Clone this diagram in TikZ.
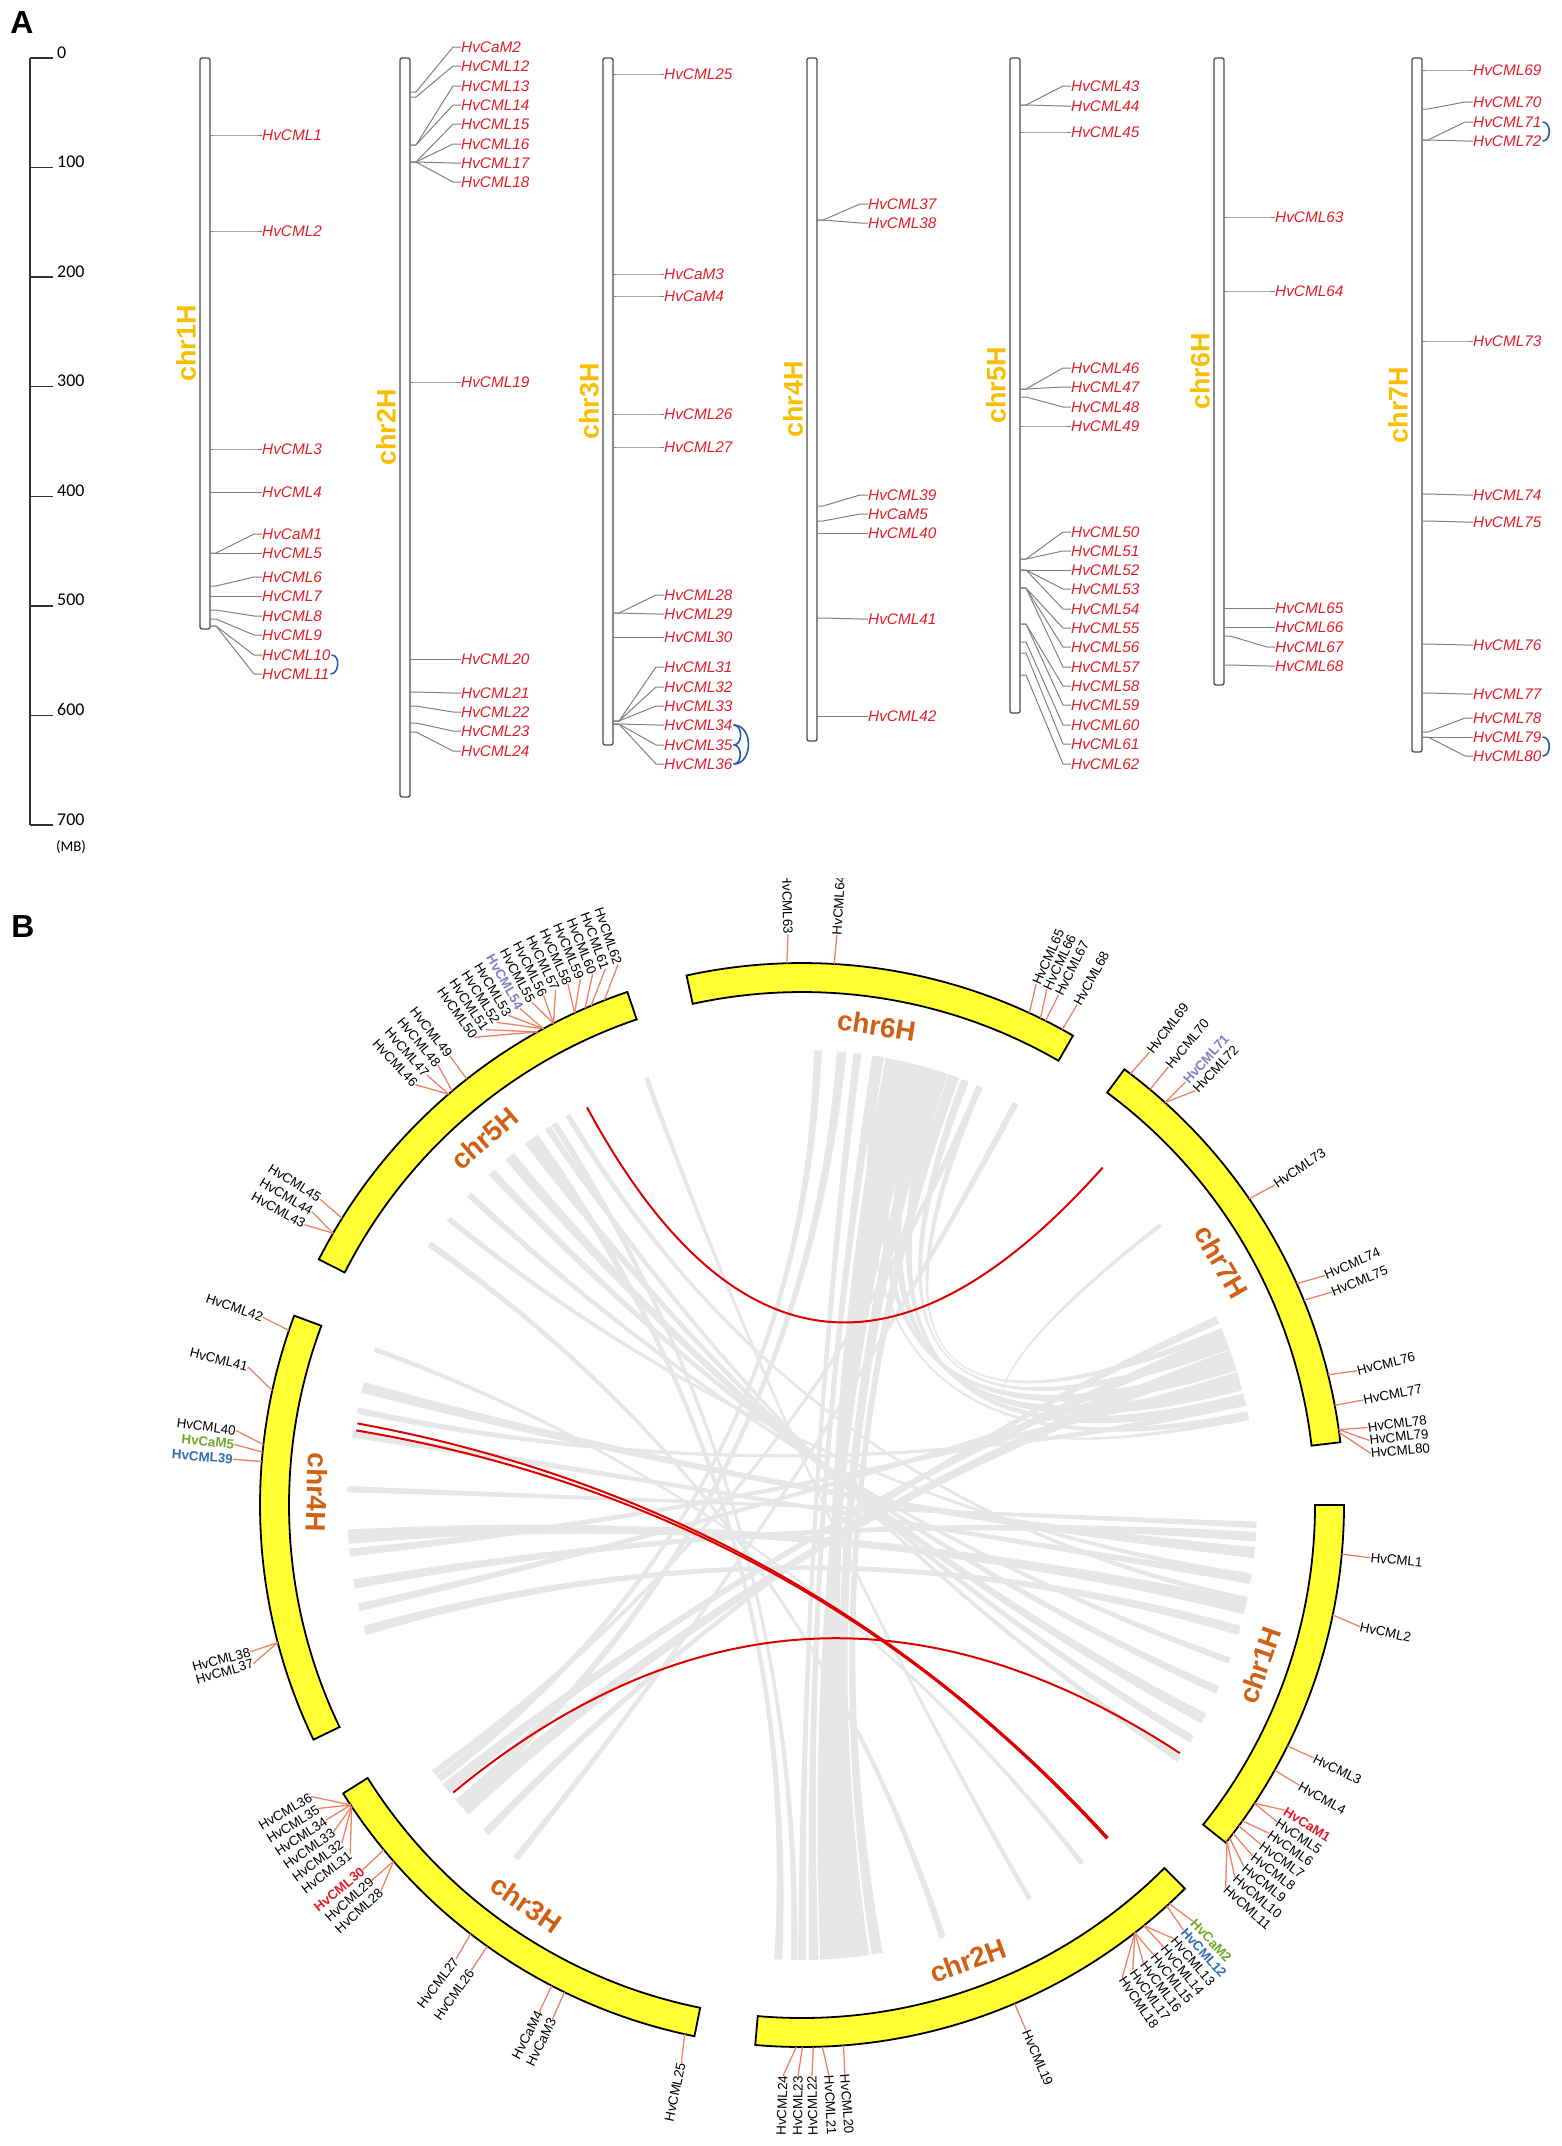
\documentclass[tikz,border=0pt]{standalone}
\usepackage{fontspec}
\setmainfont{Liberation Sans}
\newfontfamily\calfont{Carlito}

\definecolor{genered}{RGB}{226,30,40}
\definecolor{chrgold}{RGB}{250,190,0}
\definecolor{tiegray}{RGB}{128,128,128}
\definecolor{duparc}{RGB}{40,90,170}
\definecolor{ringyellow}{RGB}{255,255,51}
\definecolor{tickorange}{RGB}{238,130,100}
\definecolor{chrbrown}{RGB}{208,96,20}
\definecolor{linkgray}{RGB}{231,231,231}
\definecolor{linkred}{RGB}{222,0,0}
\definecolor{camgreen}{RGB}{110,170,40}
\definecolor{cmlblue}{RGB}{50,110,180}
\definecolor{dupviolet}{RGB}{128,128,200}

\tikzset{
  ideo/.style={draw=black!70, fill=white, line width=1.3bp, rounded corners=2bp},
  scalebar/.style={draw=black!80, line width=1.4bp},
  mbnum/.style={font=\calfont\fontsize{18}{20}\selectfont, inner sep=0pt, anchor=base west},
  glabel/.style={font=\itshape\fontsize{15.4}{17}\selectfont, text=genered, inner sep=0pt, anchor=west},
  gtie/.style={draw=tiegray, line width=1bp},
  chrA/.style={font=\bfseries\fontsize{27}{30}\selectfont, text=chrgold, rotate=90, inner sep=0pt},
  duptie/.style={draw=duparc, line width=1.6bp},
  panel/.style={font=\bfseries\fontsize{32}{34}\selectfont, inner sep=0pt},
  ring/.style={fill=ringyellow, draw=black, line width=1.8bp},
  ctick/.style={draw=tickorange, line width=1.3bp},
  clabel/.style={font=\fontsize{13.4}{15}\selectfont, inner sep=0pt},
  blk/.style={},
  redb/.style={text=genered, font=\bfseries\fontsize{13.4}{15}\selectfont},
  greenb/.style={text=camgreen, font=\bfseries\fontsize{13.4}{15}\selectfont},
  blueb/.style={text=cmlblue, font=\bfseries\fontsize{13.4}{15}\selectfont},
  purpb/.style={text=dupviolet, font=\bfseries\fontsize{13.4}{15}\selectfont},
  chrB/.style={font=\bfseries\fontsize{28}{30}\selectfont, text=chrbrown, inner sep=0pt},
  ribbon/.style={fill=linkgray},
  redlink/.style={draw=linkred, line width=2bp}
}

\begin{document}
\begin{tikzpicture}[x=1bp,y=1bp]
\useasboundingbox (0,0) rectangle (1562,-2146);

% ---------------- panel A ----------------
\node[panel] (pA) at (22,-23) {A};

% scale
\draw[scalebar] (30,-58) -- (30,-825);
\foreach \mb in {0,100,...,700}{
  \draw[scalebar] (30,{-58-1.0957*\mb}) -- (53,{-58-1.0957*\mb});
  \node[mbnum] (mb\mb) at (57,{-58-1.0957*\mb}) {\mb};
}
\node[font=\calfont\fontsize{15}{17}\selectfont] (mbunit) at (71,-847) {(MB)};

% chromosomes
\foreach \c/\xl/\yb in {1/200/629, 2/400/797, 3/603/745, 4/807/741, 5/1010/713, 6/1214/685, 7/1412/752}{
  \draw[ideo] (\xl,-58) rectangle (\xl+10,-\yb);
  \node[chrA] (chrA\c) at (\xl-14,{-(58+\yb)/2}) {chr\c H};
}

% chr1H genes
\foreach \gy/\ly/\gn in {135/135/HvCML1, 231/231/HvCML2, 449/449/HvCML3, 492/492/HvCML4, 553/534/HvCaM1, 553/553/HvCML5, 586/577/HvCML6, 596/596/HvCML7, 610/616/HvCML8, 619/635/HvCML9, 626/655/HvCML10, 626/674/HvCML11}{
  \node[glabel] (\gn) at (262,-\ly) {\gn};
  \draw[gtie] (210,-\gy) -- (216,-\gy) -- (254,-\ly) -- (\gn.west);
}

% chr2H genes
\foreach \gy/\ly/\gn in {92/47/HvCaM2, 97/66/HvCML12, 145/86/HvCML13, 145/105/HvCML14, 162/124/HvCML15, 162/144/HvCML16, 162/163/HvCML17, 162/182/HvCML18, 382/382/HvCML19, 659/659/HvCML20, 692/693/HvCML21, 706/712/HvCML22, 723/731/HvCML23, 732/751/HvCML24}{
  \node[glabel] (\gn) at (461,-\ly) {\gn};
  \draw[gtie] (410,-\gy) -- (416,-\gy) -- (453,-\ly) -- (\gn.west);
}

% chr3H genes
\foreach \gy/\ly/\gn in {74/74/HvCML25, 274/274/HvCaM3, 296/296/HvCaM4, 414/414/HvCML26, 447/447/HvCML27, 613/595/HvCML28, 613/614/HvCML29, 637/637/HvCML30, 721/667/HvCML31, 721/687/HvCML32, 721/706/HvCML33, 724/725/HvCML34, 724/745/HvCML35, 724/764/HvCML36}{
  \node[glabel] (\gn) at (664,-\ly) {\gn};
  \draw[gtie] (613,-\gy) -- (619,-\gy) -- (656,-\ly) -- (\gn.west);
}

% chr4H genes
\foreach \gy/\ly/\gn in {220/204/HvCML37, 220/223/HvCML38, 506/495/HvCML39, 521/514/HvCaM5, 533/533/HvCML40, 618/619/HvCML41, 716/716/HvCML42}{
  \node[glabel] (\gn) at (868,-\ly) {\gn};
  \draw[gtie] (817,-\gy) -- (823,-\gy) -- (860,-\ly) -- (\gn.west);
}

% chr5H genes
\foreach \gy/\ly/\gn in {105/86/HvCML43, 105/106/HvCML44, 132/132/HvCML45, 389/368/HvCML46, 389/387/HvCML47, 397/407/HvCML48, 426/426/HvCML49, 559/532/HvCML50, 559/551/HvCML51, 570/570/HvCML52, 570/589/HvCML53, 570/609/HvCML54, 588/628/HvCML55, 588/647/HvCML56, 588/667/HvCML57, 624/686/HvCML58, 624/705/HvCML59, 642/725/HvCML60, 653/744/HvCML61, 675/764/HvCML62}{
  \node[glabel] (\gn) at (1071,-\ly) {\gn};
  \draw[gtie] (1020,-\gy) -- (1026,-\gy) -- (1063,-\ly) -- (\gn.west);
}

% chr6H genes
\foreach \gy/\ly/\gn in {217/217/HvCML63, 291/291/HvCML64, 608/608/HvCML65, 627/627/HvCML66, 636/647/HvCML67, 665/666/HvCML68}{
  \node[glabel] (\gn) at (1275,-\ly) {\gn};
  \draw[gtie] (1224,-\gy) -- (1230,-\gy) -- (1267,-\ly) -- (\gn.west);
}

% chr7H genes
\foreach \gy/\ly/\gn in {70/70/HvCML69, 109/102/HvCML70, 140/122/HvCML71, 140/141/HvCML72, 341/341/HvCML73, 494/495/HvCML74, 521/522/HvCML75, 644/645/HvCML76, 693/694/HvCML77, 732/718/HvCML78, 737/737/HvCML79, 737/756/HvCML80}{
  \node[glabel] (\gn) at (1473,-\ly) {\gn};
  \draw[gtie] (1422,-\gy) -- (1428,-\gy) -- (1465,-\ly) -- (\gn.west);
}

% tandem duplications
\draw[duptie] ([xshift=1bp]HvCML10.east) to[out=0,in=0,looseness=1.2] ([xshift=1bp]HvCML11.east);
\draw[duptie] ([xshift=1bp]HvCML34.east) to[out=0,in=0,looseness=1.2] ([xshift=1bp]HvCML35.east);
\draw[duptie] ([xshift=1bp]HvCML35.east) to[out=0,in=0,looseness=1.2] ([xshift=1bp]HvCML36.east);
\draw[duptie] ([xshift=1bp]HvCML34.east) to[out=0,in=0,looseness=1.3] ([xshift=1bp]HvCML36.east);
\draw[duptie] ([xshift=1bp]HvCML71.east) to[out=0,in=0,looseness=1.2] ([xshift=1bp]HvCML72.east);
\draw[duptie] ([xshift=1bp]HvCML79.east) to[out=0,in=0,looseness=1.2] ([xshift=1bp]HvCML80.east);

% ---------------- panel B ----------------
\node[panel] (pB) at (23,-927) {B};

\begin{scope}
\clip (0,-878) rectangle (1562,-2146);
\begin{scope}[shift={(802,-1505)}]

% gray links
\foreach \a/\b/\w in {78/-84/1.4, 75.5/-86.5/1.2, 73/-82.5/1.0, 80.5/-88.5/0.6, 70.5/-80.5/0.7, 83/-90/0.5,
    77/18/0.8, 74.5/15.5/0.9, 72/13.5/0.7, 69/20.5/0.5, 80/11.5/0.4, 67/22.5/0.4,
    130/-28/0.7, 127/-31/0.5, 133/-24/0.5, 124/-34/0.4, 137/-20/0.4, 121/-12/0.35, 141/-9/0.35,
    165/-6/0.7, 171/-9.5/0.5, 184/-13/0.9, 190/-4/0.6, 196/-16/0.6, 178/-2.5/0.4, 186/16.5/0.5, 193/19/0.5, 168/13/0.4,
    -138/19/0.9, -141.5/21.5/0.7, -134/24/0.5, -129/62/0.4, -144/67/0.4, -139/85/0.6, -143/88/0.5,
    -93/126/0.5, -91/123/0.4, -72/145/0.4, -52/160/0.3, -60/110/0.3,
    38/11/0.25}{
  \fill[ribbon] ({\a+\w}:455) .. controls ({\a+\w}:152) and ({\b-\w}:152) .. ({\b-\w}:455)
    -- ({\b+\w}:455) .. controls ({\b+\w}:152) and ({\a-\w}:152) .. ({\a-\w}:455) -- cycle;
}

% segmental duplications
\draw[redlink] (118.4:452) .. controls (118.4:150.7) and (48.3:150.7) .. (48.3:452);
\draw[redlink] (169.6:452) .. controls (169.6:150.7) and (-47.4:150.7) .. (-47.4:452);
\draw[redlink] (170.5:452) .. controls (170.5:150.7) and (-47.6:150.7) .. (-47.6:452);
\draw[redlink] (-140.5:452) .. controls (-140.5:150.7) and (-33.3:150.7) .. (-33.3:452);

% chromosome ring
\foreach \c/\s/\e in {1/0/-38.55, 2/-45.05/-94.95, 3/-101.45/-147.85, 4/-154.35/-200.45, 5/-206.95/-251.2, 6/-257.7/-300, 7/-306.5/-353.35}{
  \filldraw[ring] (\s:513) arc[start angle=\s, end angle=\e, radius=513bp] -- (\e:542) arc[start angle=\e, end angle=\s, radius=542bp] -- cycle;
}
\foreach \c/\m/\r in {1/-19.3/70.7, 2/-70/20, 3/-124.65/-34.65, 4/-181.5/-91.5, 5/130.9/40.9, 6/81.15/-8.85, 7/30.1/-59.9}{
  \node[chrB, rotate=\r] (chrB\c) at (\m:485) {chr\c H};
}

% gene labels, right half
\foreach \g/\l/\gn/\gs in {-5.2/-5.3/HvCML1/blk, -11.7/-12.3/HvCML2/blk, -26.4/-26.3/HvCML3/blk, -29.3/-29.4/HvCML4/blk,
    -33.4/-32.3/HvCaM1/redb, -33.4/-33.7/HvCML5/blk, -35.65/-35.1/HvCML6/blk, -36.3/-36.5/HvCML7/blk,
    -37.3/-37.9/HvCML8/blk, -37.9/-39.3/HvCML9/blk, -38.35/-40.7/HvCML10/blk, -38.35/-42.1/HvCML11/blk,
    -47.35/-46.8/HvCaM2/greenb, -47.7/-48.1/HvCML12/blueb, -50.9/-49.4/HvCML13/blk, -50.9/-50.7/HvCML14/blk,
    -52.1/-52.0/HvCML15/blk, -52.1/-53.3/HvCML16/blk, -52.1/-54.6/HvCML17/blk, -52.1/-55.9/HvCML18/blk,
    -66.9/-66.9/HvCML19/blk, -85.6/-85.7/HvCML20/blk, -87.85/-87.3/HvCML21/blk,
    86.6/86.5/HvCML64/blk, 65.2/65.8/HvCML65/blk, 63.9/64.6/HvCML66/blk, 63.3/63.3/HvCML67/blk, 61.3/61.2/HvCML68/blk,
    52.7/52.5/HvCML69/blk, 50.05/50.1/HvCML70/blk, 47.96/47.8/HvCML71/purpb, 47.96/46.5/HvCML72/blk,
    34.4/34.1/HvCML73/blk, 24.1/23.7/HvCML74/blk, 22.2/21.9/HvCML75/blk, 13.9/13.6/HvCML76/blk,
    10.6/10.6/HvCML77/blk, 8.0/7.8/HvCML78/blk, 8.0/6.5/HvCML79/blk, 7.7/5.2/HvCML80/blk}{
  \node[clabel,\gs,rotate=\l,anchor=west] (b\gn) at (\l:571) {\gn};
  \draw[ctick] (\g:542) -- (b\gn.west);
}

% gene labels, left half
\foreach \g/\l/\gn/\gs in {-88.8/-89.0/HvCML22/blk, -89.95/-90.4/HvCML23/blk, -90.6/-91.9/HvCML24/blk,
    -102.5/-102.2/HvCML25/blk, -116.0/-115.9/HvCaM3/blk, -117.5/-117.4/HvCaM4/blk, -125.5/-125.4/HvCML26/blk,
    -127.7/-127.3/HvCML27/blk, -138.9/-137.5/HvCML28/blk, -138.9/-138.9/HvCML29/blk, -140.5/-140.3/HvCML30/redb,
    -146.2/-142.3/HvCML31/blk, -146.2/-143.7/HvCML32/blk, -146.2/-145.1/HvCML33/blk, -146.4/-146.5/HvCML34/blk,
    -146.4/-147.9/HvCML35/blk, -146.4/-149.3/HvCML36/blk,
    194.7/196.1/HvCML37/blk, 194.7/194.9/HvCML38/blk, 175.4/175.4/HvCML39/blueb, 174.4/173.9/HvCaM5/greenb,
    173.6/172.5/HvCML40/blk, 167.8/166.0/HvCML41/blk, 161.2/160.8/HvCML42/blk,
    149.9/150.6/HvCML43/blk, 149.9/149.1/HvCML44/blk, 148.05/147.6/HvCML45/blk,
    130.7/132.6/HvCML46/blk, 130.7/131.1/HvCML47/blk, 130.2/129.6/HvCML48/blk, 128.2/128.1/HvCML49/blk,
    119.2/125.0/HvCML50/blk, 119.2/123.65/HvCML51/blk, 118.5/122.3/HvCML52/blk, 118.5/120.95/HvCML53/blk,
    118.5/119.6/HvCML54/purpb, 117.3/118.25/HvCML55/blk, 117.3/116.9/HvCML56/blk, 117.3/115.55/HvCML57/blk,
    114.8/114.2/HvCML58/blk, 114.8/112.85/HvCML59/blk, 113.6/111.5/HvCML60/blk, 112.9/110.15/HvCML61/blk,
    111.4/108.8/HvCML62/blk, 91.6/91.4/HvCML63/blk}{
  \node[clabel,\gs,rotate=\l+180,anchor=east] (b\gn) at (\l:571) {\gn};
  \draw[ctick] (\g:542) -- (b\gn.east);
}

\end{scope}
\end{scope}
\end{tikzpicture}
\end{document}
